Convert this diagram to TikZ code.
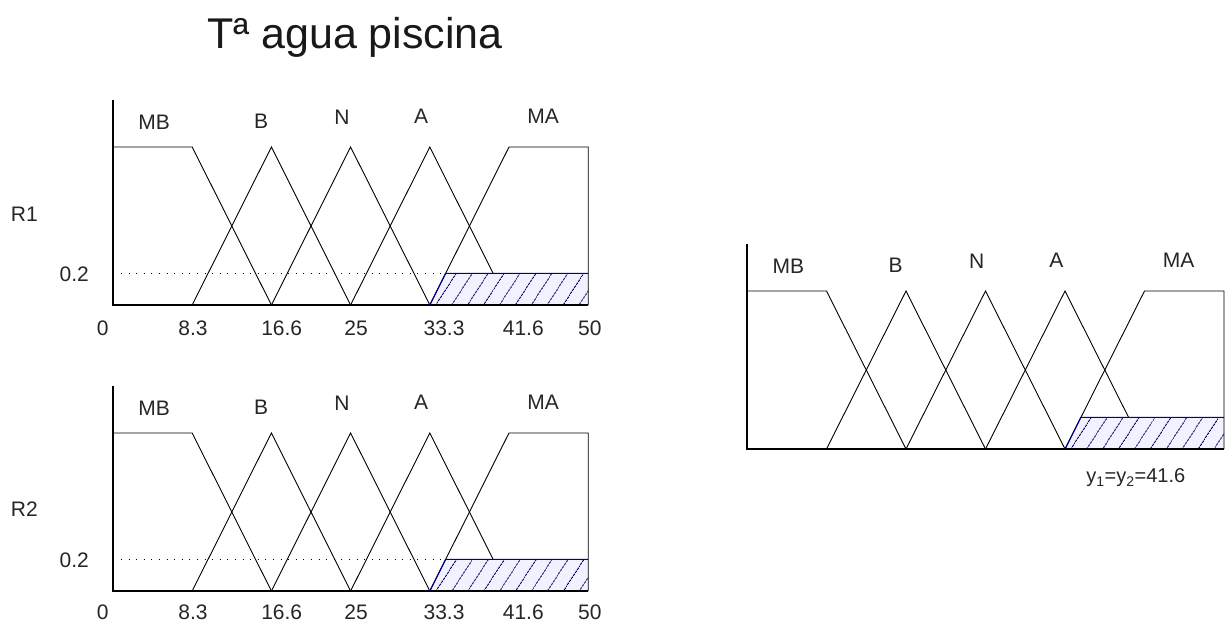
\documentclass[tikz,border=0pt]{standalone}
\usepackage{fontspec}
\setmainfont{Liberation Sans}
\usetikzlibrary{patterns.meta}

% conjuntos MB, B, N, A, MA sobre ejes locales (x: 0..6, y: 0..1)
\newcommand{\conjuntos}[1]{%
  \path[zona] (4,0) -- (4.2,0.2) -- (6,0.2) -- (6,0) -- cycle;
  \draw[eje] (0,1.3) -- (0,0) -- (6,0);
  \draw[curva] (0,1) -- (1,1) -- (2,0);
  \draw[curva] (1,0) -- (2,1) -- (3,0);
  \draw[curva] (2,0) -- (3,1) -- (4,0);
  \draw[curva] (3,0) -- (4,1) -- (4.8,0.2);
  \draw[curva] (4,0) -- (5,1) -- (6,1) -- (6,0);
  \draw[borde] (4,0) -- (4.2,0.2) -- (6,0.2);
  \node[etiq] (#1-mb) at (0.52,1.11) {MB};
  \node[etiq] (#1-b)  at (1.87,1.12) {B};
  \node[etiq] (#1-n)  at (2.89,1.14) {N};
  \node[etiq] (#1-a)  at (3.89,1.15) {A};
  \node[etiq] (#1-ma) at (5.43,1.15) {MA};
}

\begin{document}
\begin{tikzpicture}[
    etiq/.style={inner sep=0pt, anchor=base, font=\fontsize{21}{24}\selectfont, text=black!85},
    eje/.style={line width=1.1pt},
    curva/.style={line width=0.9pt},
    borde/.style={line width=1.1pt, draw=blue!55!black},
    zona/.style={preaction={fill=blue!5}, pattern={Lines[angle=57, distance=13pt, line width=0.8pt]}, pattern color=blue!40!black},
    punteado/.style={line width=0.9pt, dash pattern=on 1pt off 6.6pt}
]
\fill[white] (0,0) rectangle (1226pt,-624pt);
\useasboundingbox (0,0) rectangle (1226pt,-624pt);

\node[inner sep=0pt, anchor=base, font=\fontsize{43}{48}\selectfont, text=black!90] (titulo) at (355pt,-48pt) {Tª agua piscina};

% regla 1
\begin{scope}[shift={(113pt,-305pt)}, x=79.2pt, y=158pt]
  \conjuntos{r1}
  \draw[punteado] (0.1,0.2) -- (4.2,0.2);
  \node[etiq] (r1-nivel) at (-0.49,0.146) {0.2};
  \node[etiq] (r1-nom) at (-1.12,0.53) {R1};
  \foreach \t/\xx [count=\k] in {0/-0.13, 8.3/1.01, 16.6/2.13, 25/3.07, 33.3/4.18, 41.6/5.18, 50/6.02}
    \node[etiq] (r1-t\k) at (\xx,-0.19) {\t};
\end{scope}

% regla 2
\begin{scope}[shift={(113pt,-591pt)}, x=79.2pt, y=158pt]
  \conjuntos{r2}
  \draw[punteado] (0.1,0.2) -- (4.2,0.2);
  \node[etiq] (r2-nivel) at (-0.49,0.146) {0.2};
  \node[etiq] (r2-nom) at (-1.12,0.47) {R2};
  \foreach \t/\xx [count=\k] in {0/-0.13, 8.3/1.01, 16.6/2.13, 25/3.07, 33.3/4.18, 41.6/5.18, 50/6.02}
    \node[etiq] (r2-t\k) at (\xx,-0.18) {\t};
\end{scope}

% resultado
\begin{scope}[shift={(747pt,-449pt)}, x=79.5pt, y=158pt]
  \conjuntos{res}
  \node[etiq, font=\fontsize{20}{24}\selectfont] (res-y) at (4.89,-0.215) {y\textsubscript{1}=y\textsubscript{2}=41.6};
\end{scope}
\end{tikzpicture}
\end{document}
